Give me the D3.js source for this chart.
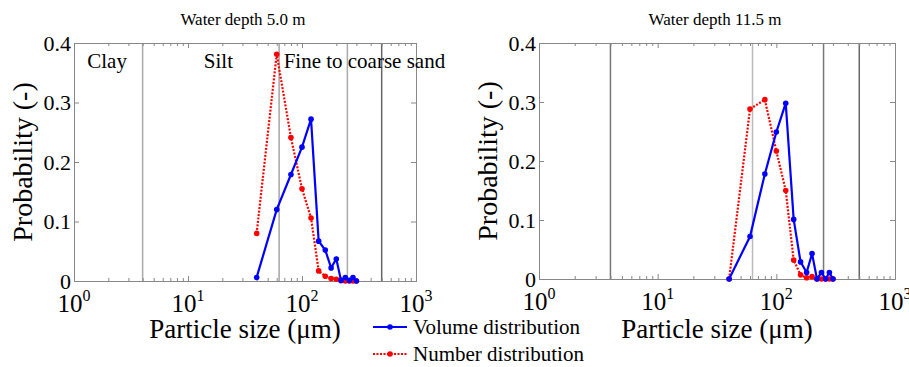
<!DOCTYPE html>
<html>
<head>
<meta charset="utf-8">
<script src="https://cdn.jsdelivr.net/npm/d3@7"></script>
<style>
  body { margin: 0; background: #fff; }
  svg text { font-family: "Liberation Serif", "DejaVu Serif", serif; }
</style>
</head>
<body>
<div id="chart"></div>
<script>
// particle size bins (um)
const sizes = [40, 60, 80, 100, 120, 140, 160, 180, 200, 220, 240, 260, 280, 300]

// water depth 5.0 m
const volume5 = [0.006, 0.120, 0.179, 0.225, 0.272, 0.067, 0.052, 0.022, 0.037, 0.001, 0.006, 0.001, 0.006, 0.000]
const number5 = [0.080, 0.381, 0.241, 0.155, 0.106, 0.017, 0.008, 0.004, 0.003, 0.001, 0.000, 0.000, 0.000, 0.000]

// water depth 11.5 m
const volume11 = [0.000, 0.072, 0.178, 0.249, 0.298, 0.101, 0.029, 0.011, 0.043, 0.000, 0.011, 0.000, 0.011, 0.000]
const number11 = [0.000, 0.288, 0.304, 0.217, 0.150, 0.032, 0.007, 0.002, 0.004, 0.000, 0.000, 0.000, 0.000, 0.000]

// grain class boundaries (um) and class names
const boundaries = [4, 63, 250, 500]
const classNames = ["Clay", "Silt", "Fine to coarse sand"]

const xTicks = [1, 10, 100, 1000]
const yTicks = [0, 0.1, 0.2, 0.3, 0.4]

const W = 909, H = 367
const FONT = "'Liberation Serif', 'DejaVu Serif', serif"

const svg = d3.select("#chart").append("svg")
    .attr("width", W)
    .attr("height", H)
    .attr("font-family", FONT)

const panels = [
    { title: "Water depth 5.0 m", vol: volume5, num: number5, left: 74, right: 416, top: 43, bottom: 281,
      classes: true, shades: ["#aaa", "#a5a5a5", "#aaa", "#666"] },
    { title: "Water depth 11.5 m", vol: volume11, num: number11, left: 539, right: 895, top: 43, bottom: 279,
      classes: false, shades: ["#777", "#bbb", "#777", "#666"] }
]

panels.forEach(p => drawPanel(p))

function drawPanel(p) {
    let x = d3.scaleLog().domain([1, 1000]).range([p.left, p.right])
    let y = d3.scaleLinear().domain([0, 0.4]).range([p.bottom, p.top])
    let g = svg.append("g")
    let cx = (p.left + p.right) / 2

    // minor ticks for log axis
    let minors = []
    for (let d = 1; d < 1000; d *= 10) {
        for (let k = 2; k < 10; k++) minors.push(d * k)
    }

    // class boundary lines
    g.selectAll(".boundary")
        .data(boundaries)
        .enter().append("line")
        .attr("x1", d => x(d)).attr("x2", d => x(d))
        .attr("y1", p.top).attr("y2", p.bottom)
        .attr("stroke", (d, i) => p.shades[i])
        .attr("stroke-width", 1.5)

    // axes (box)
    g.append("g").attr("class", "axis")
        .attr("transform", "translate(0," + p.bottom + ")")
        .call(d3.axisBottom(x).tickValues(xTicks).tickSize(-5).tickFormat(""))
    g.append("g").attr("class", "axis minor")
        .attr("transform", "translate(0," + p.bottom + ")")
        .call(d3.axisBottom(x).tickValues(minors).tickSize(-3).tickFormat(""))
    g.append("g").attr("class", "axis")
        .attr("transform", "translate(0," + p.top + ")")
        .call(d3.axisTop(x).tickValues(xTicks).tickSize(-5).tickFormat(""))
    g.append("g").attr("class", "axis minor")
        .attr("transform", "translate(0," + p.top + ")")
        .call(d3.axisTop(x).tickValues(minors).tickSize(-3).tickFormat(""))
    g.append("g").attr("class", "axis")
        .attr("transform", "translate(" + p.left + ",0)")
        .call(d3.axisLeft(y).tickValues(yTicks).tickSize(-5).tickFormat(""))
    g.append("g").attr("class", "axis")
        .attr("transform", "translate(" + p.right + ",0)")
        .call(d3.axisRight(y).tickValues(yTicks).tickSize(-5).tickFormat(""))
    g.selectAll(".minor .domain").remove()
    g.selectAll(".axis path, .axis line").attr("stroke", "#888")

    // y tick labels
    g.selectAll(".ylab")
        .data(yTicks)
        .enter().append("text")
        .attr("x", p.left - 3)
        .attr("y", d => y(d))
        .attr("dy", "0.35em")
        .attr("text-anchor", "end")
        .attr("font-family", FONT)
        .attr("font-size", "22px")
        .text(d => d === 0 ? "0" : d.toFixed(1))

    // x tick labels 10^n
    let xl = g.selectAll(".xlab")
        .data(xTicks)
        .enter().append("text")
        .attr("x", d => x(d))
        .attr("y", p.bottom + 31)
        .attr("text-anchor", "middle")
        .attr("font-family", FONT)
        .attr("font-size", "25px")
    xl.append("tspan").text("10")
    xl.append("tspan").attr("dy", -11).attr("font-size", "16px").text(d => Math.round(Math.log10(d)))

    // axis titles
    g.append("text")
        .attr("x", cx).attr("y", 338)
        .attr("text-anchor", "middle")
        .attr("font-family", FONT)
        .attr("font-size", "27px")
        .text("Particle size (\u03bcm)")
    g.append("text")
        .attr("transform", "translate(" + (p.left - 42) + "," + ((p.top + p.bottom) / 2) + ") rotate(-90)")
        .attr("text-anchor", "middle")
        .attr("font-family", FONT)
        .attr("font-size", "28px")
        .text("Probability (-)")

    // title
    g.append("text")
        .attr("x", cx - 2).attr("y", 25)
        .attr("text-anchor", "middle")
        .attr("font-family", FONT)
        .attr("font-size", "17px")
        .text(p.title)

    // class names
    if (p.classes) {
        let cl = [[1.95, "middle"], [18.5, "middle"], [69, "start"]]
        g.selectAll(".cls")
            .data(classNames)
            .enter().append("text")
            .attr("x", (d, i) => x(cl[i][0]))
            .attr("y", 68)
            .attr("text-anchor", (d, i) => cl[i][1])
            .attr("font-family", FONT)
            .attr("font-size", "21px")
            .text(d => d)
    }

    // series
    let series = [
        { vals: p.num, color: "#ff0000", dash: "2,1.5" },
        { vals: p.vol, color: "#0000ff", dash: null }
    ]
    let line = d3.line().x(d => x(d[0])).y(d => y(d[1]))
    series.forEach(s => {
        let pts = sizes.map((d, i) => [d, s.vals[i]])
        g.append("path")
            .datum(pts)
            .attr("d", line)
            .attr("fill", "none")
            .attr("stroke", s.color)
            .attr("stroke-width", 2.2)
            .attr("stroke-dasharray", s.dash)
        g.selectAll(null)
            .data(pts)
            .enter().append("circle")
            .attr("cx", d => x(d[0]))
            .attr("cy", d => y(d[1]))
            .attr("r", 2.8)
            .attr("fill", s.color)
    })
}

// legend
const legendItems = [
    { label: "Volume distribution", color: "#0000ff", dash: null, y: 327 },
    { label: "Number distribution", color: "#ff0000", dash: "2,1.5", y: 354 }
]
const lg = svg.append("g")
legendItems.forEach(d => {
    lg.append("line")
        .attr("x1", 373).attr("x2", 407)
        .attr("y1", d.y).attr("y2", d.y)
        .attr("stroke", d.color)
        .attr("stroke-width", 2.2)
        .attr("stroke-dasharray", d.dash)
    lg.append("circle")
        .attr("cx", 390).attr("cy", d.y).attr("r", 2.8)
        .attr("fill", d.color)
    lg.append("text")
        .attr("x", 413).attr("y", d.y + 7)
        .attr("font-family", FONT)
        .attr("font-size", "21px")
        .text(d.label)
})
</script>
</body>
</html>
